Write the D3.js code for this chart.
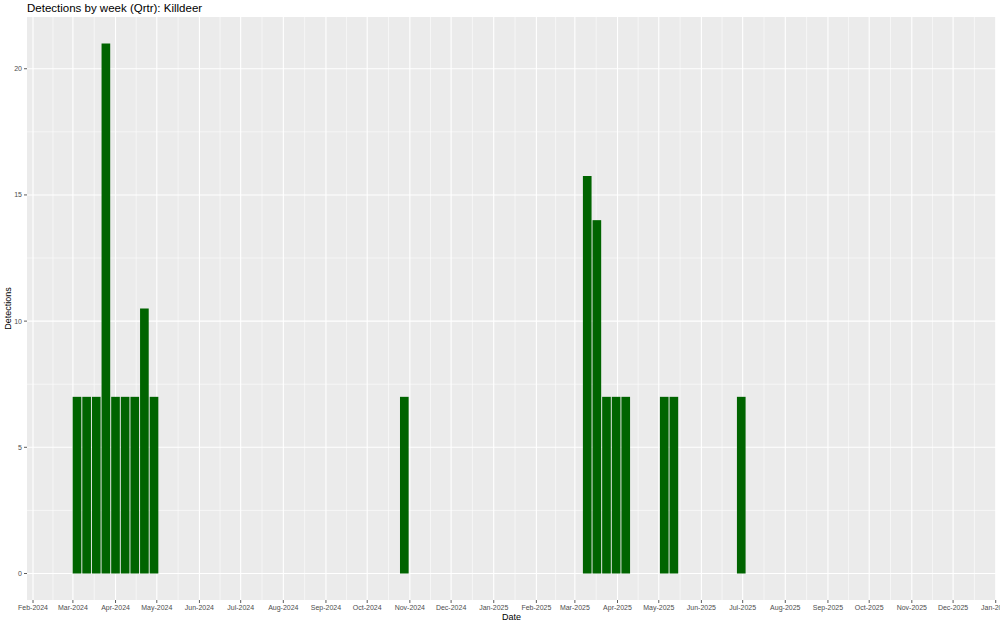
<!DOCTYPE html>
<html lang="en">
<head>
    <meta charset="UTF-8">
    <title>Detections by week (Qrtr): Killdeer</title>
    <script src="https://cdn.jsdelivr.net/npm/d3@7"></script>
    <style>
        body { margin: 0; background: #fff; }
        text { font-family: "Liberation Sans", Arial, sans-serif; }
        .tick-label { font-size: 7px; fill: #4d4d4d; }
        .axis-title { font-size: 9px; fill: #000; }
        .title { font-size: 11.5px; fill: #000; }
    </style>
</head>
<body>
<script>
    // week start dates (Mondays) and detections per week
    const weeks = [
        "2024-03-04", "2024-03-11", "2024-03-18", "2024-03-25", "2024-04-01",
        "2024-04-08", "2024-04-15", "2024-04-22", "2024-04-29",
        "2024-10-28",
        "2025-03-10", "2025-03-17", "2025-03-24", "2025-03-31", "2025-04-07",
        "2025-05-05", "2025-05-12",
        "2025-06-30"
    ];
    const detections = [
        7, 7, 7, 21, 7,
        7, 7, 10.5, 7,
        7,
        15.75, 14, 7, 7, 7,
        7, 7,
        7
    ];
    const yTicks = [0, 5, 10, 15, 20];
    const yMinor = [2.5, 7.5, 12.5, 17.5];

    const width = 1000;
    const height = 626;
    const panel = {left: 27, right: 996, top: 17, bottom: 600};

    const parse = d3.utcParse("%Y-%m-%d");
    const data = weeks.map((w, i) => ({date: parse(w), value: detections[i]}));

    // x scale: dates, y scale: detections (ggplot-like expansion)
    const x = d3.scaleUtc()
        .domain([new Date(Date.UTC(2024, 0, 27, 15)), new Date(Date.UTC(2026, 0, 1, 5))])
        .range([panel.left, panel.right]);
    const y = d3.scaleLinear()
        .domain([-1.05, 22.05])
        .range([panel.bottom, panel.top]);

    const monthTicks = d3.utcMonth.range(new Date(Date.UTC(2024, 1, 1)), new Date(Date.UTC(2026, 0, 2)));
    const monthMinor = [];
    for (let i = 0; i < monthTicks.length - 1; i++) {
        monthMinor.push(new Date((+monthTicks[i] + +monthTicks[i + 1]) / 2));
    }
    const fmt = d3.utcFormat("%b-%Y");

    const svg = d3.select("body").append("svg")
        .attr("width", width).attr("height", height);

    // panel background
    svg.append("rect")
        .attr("x", panel.left).attr("y", panel.top)
        .attr("width", panel.right - panel.left).attr("height", panel.bottom - panel.top)
        .attr("fill", "#ebebeb");

    const grid = svg.append("g");
    // minor grid
    grid.selectAll("line.ymin").data(yMinor).enter().append("line")
        .attr("x1", panel.left).attr("x2", panel.right)
        .attr("y1", d => y(d)).attr("y2", d => y(d))
        .attr("stroke", "#fff").attr("stroke-width", 0.55);
    grid.selectAll("line.xmin").data(monthMinor).enter().append("line")
        .attr("y1", panel.top).attr("y2", panel.bottom)
        .attr("x1", d => x(d)).attr("x2", d => x(d))
        .attr("stroke", "#fff").attr("stroke-width", 0.55);
    // major grid
    grid.selectAll("line.ymaj").data(yTicks).enter().append("line")
        .attr("x1", panel.left).attr("x2", panel.right)
        .attr("y1", d => y(d)).attr("y2", d => y(d))
        .attr("stroke", "#fff").attr("stroke-width", 1.1);
    grid.selectAll("line.xmaj").data(monthTicks).enter().append("line")
        .attr("y1", panel.top).attr("y2", panel.bottom)
        .attr("x1", d => x(d)).attr("x2", d => x(d))
        .attr("stroke", "#fff").attr("stroke-width", 1.1);

    // bars, 0.9 of a week wide, centred on week start
    const barDays = 7 * 0.9;
    svg.append("g").selectAll("rect").data(data).enter().append("rect")
        .attr("x", d => x(d3.utcHour.offset(d.date, -barDays * 12)))
        .attr("width", d => x(d3.utcHour.offset(d.date, barDays * 12)) - x(d3.utcHour.offset(d.date, -barDays * 12)))
        .attr("y", d => y(d.value))
        .attr("height", d => y(0) - y(d.value))
        .attr("fill", "#006400");

    // y axis
    const yAxis = svg.append("g");
    yAxis.selectAll("line").data(yTicks).enter().append("line")
        .attr("x1", panel.left - 3).attr("x2", panel.left)
        .attr("y1", d => y(d)).attr("y2", d => y(d))
        .attr("stroke", "#333").attr("stroke-width", 0.8);
    yAxis.selectAll("text").data(yTicks).enter().append("text")
        .attr("class", "tick-label")
        .attr("x", panel.left - 5).attr("y", d => y(d))
        .attr("dy", "0.35em").attr("text-anchor", "end")
        .text(d => d);

    // x axis
    const xAxis = svg.append("g");
    xAxis.selectAll("line").data(monthTicks).enter().append("line")
        .attr("y1", panel.bottom).attr("y2", panel.bottom + 3)
        .attr("x1", d => x(d)).attr("x2", d => x(d))
        .attr("stroke", "#333").attr("stroke-width", 0.8);
    xAxis.selectAll("text").data(monthTicks).enter().append("text")
        .attr("class", "tick-label")
        .attr("x", d => x(d)).attr("y", panel.bottom + 10)
        .attr("text-anchor", "middle")
        .text(d => fmt(d));

    // titles
    svg.append("text").attr("class", "axis-title")
        .attr("x", (panel.left + panel.right) / 2).attr("y", 620)
        .attr("text-anchor", "middle").text("Date");
    svg.append("text").attr("class", "axis-title")
        .attr("transform", "translate(11," + (panel.top + panel.bottom) / 2 + ") rotate(-90)")
        .attr("text-anchor", "middle").text("Detections");
    svg.append("text").attr("class", "title")
        .attr("x", panel.left).attr("y", 12)
        .text("Detections by week (Qrtr): Killdeer");
</script>
</body>
</html>
